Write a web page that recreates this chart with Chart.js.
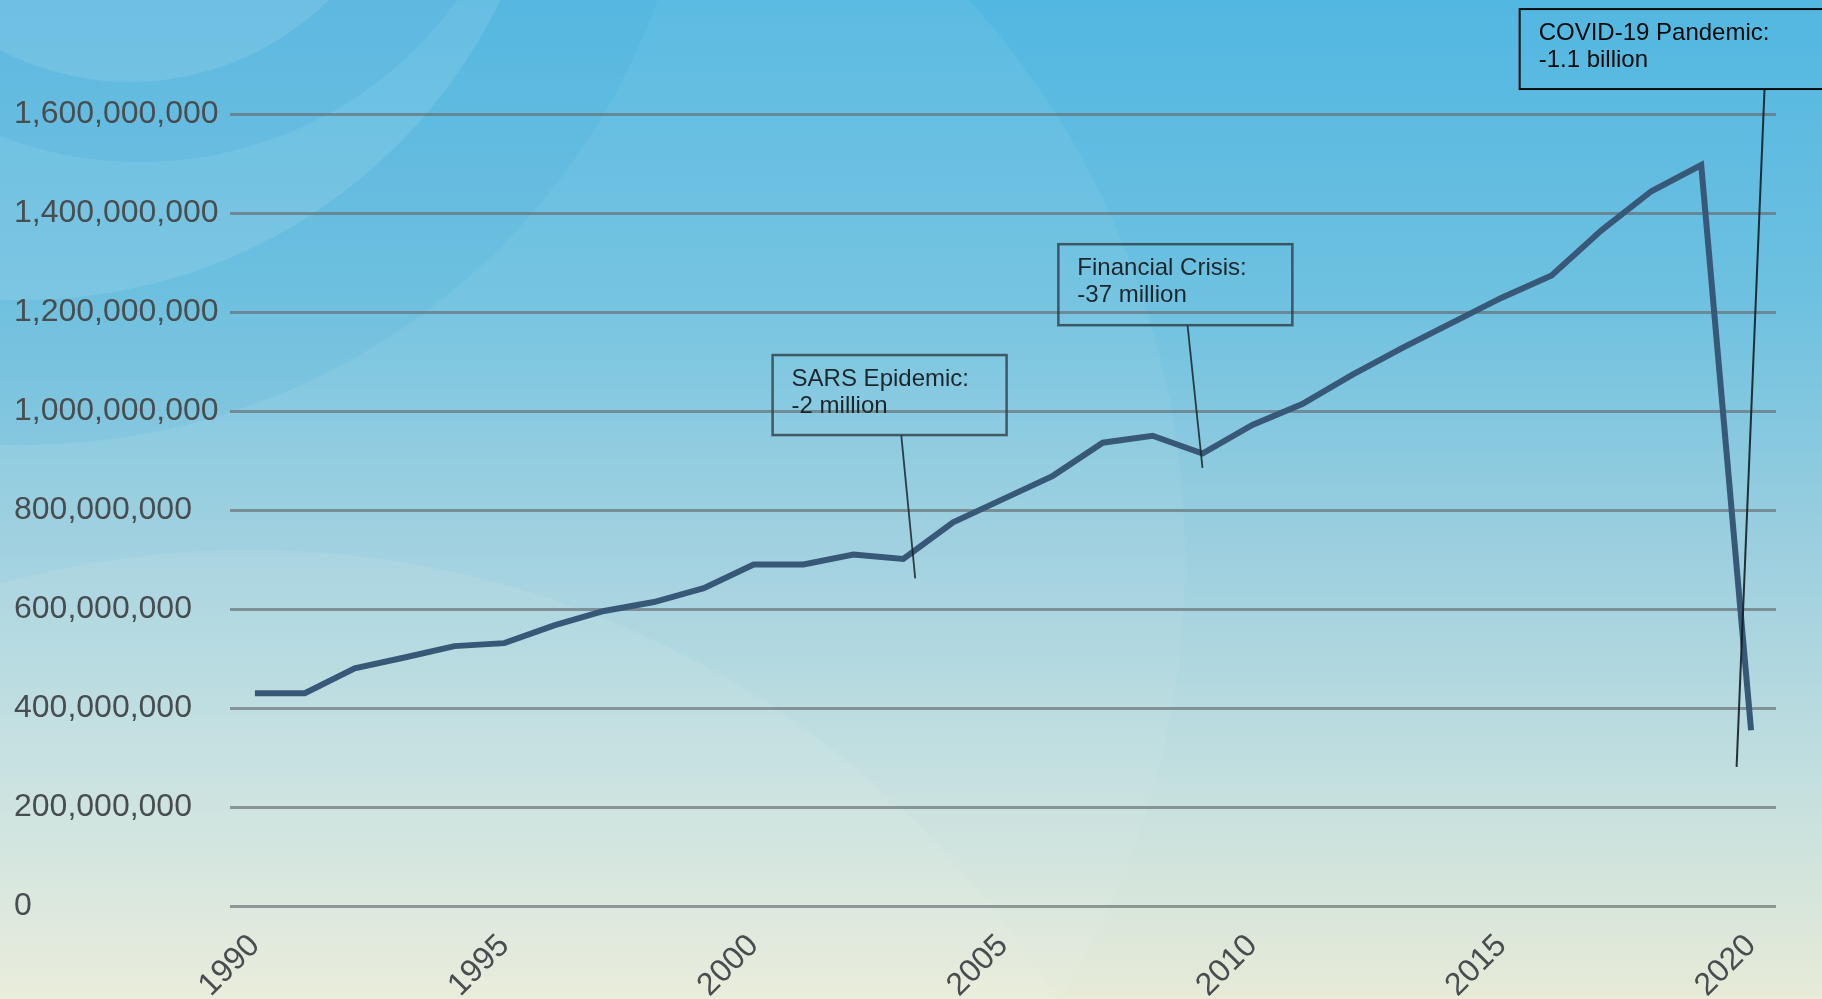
<!DOCTYPE html>
<html>
<head>
<meta charset="utf-8">
<script src="https://cdn.jsdelivr.net/npm/chart.js@4/dist/chart.umd.min.js"></script>
<style>
html,body{margin:0;padding:0;overflow:hidden;background:#7fc4df;}
#wrap{width:1822px;height:999px;position:relative;}
canvas{display:block;}
</style>
</head>
<body>
<div id="wrap"><canvas id="c" width="1822" height="999"></canvas></div>
<script>
// ---- data ----
const years = ['1990','1991','1992','1993','1994','1995','1996','1997','1998','1999',
               '2000','2001','2002','2003','2004','2005','2006','2007','2008','2009',
               '2010','2011','2012','2013','2014','2015','2016','2017','2018','2019','2020'];
const arrivals = [430e6, 430e6, 480e6, 502e6, 525e6, 531e6, 567e6, 596e6, 614e6, 642e6,
                  690e6, 690e6, 710e6, 701e6, 775e6, 822e6, 869e6, 936e6, 950e6, 914e6,
                  972e6, 1014e6, 1073e6, 1127e6, 1178e6, 1229e6, 1274e6, 1365e6, 1444e6, 1497e6, 355e6];
const yTickValues = [0, 200e6, 400e6, 600e6, 800e6, 1000e6, 1200e6, 1400e6, 1600e6];
const xTickLabels = ['1990','1995','2000','2005','2010','2015','2020'];
const eventTitles = ['SARS Epidemic:', 'Financial Crisis:', 'COVID-19 Pandemic:'];
const eventChanges = ['-2 million', '-37 million', '-1.1 billion'];

// ---- callout placement (data units: category index / value) ----
const calloutPlacement = [
  {boxX: 10.38, boxY: 1113e6, w: 234, h: 80, fromX: 12.96, toX: 13.24, toY: 662e6, strong: false},
  {boxX: 16.11, boxY: 1337e6, w: 234, h: 81, fromX: 18.70, toX: 19.00, toY: 885e6, strong: false},
  {boxX: 25.36, boxY: 1812e6, w: 330, h: 80, fromX: 30.27, toX: 29.71, toY: 281e6, strong: true}
];

const bgPlugin = {
  id: 'bg',
  beforeDraw(chart) {
    const ctx = chart.ctx, W = chart.width, H = chart.height;
    ctx.save();
    const g = ctx.createLinearGradient(0, 0, 0, H);
    g.addColorStop(0, '#52b7e1');
    g.addColorStop(0.3, '#6ec1e0');
    g.addColorStop(0.55, '#9ccfdf');
    g.addColorStop(0.78, '#c3dfdf');
    g.addColorStop(1, '#e7ebd8');
    ctx.fillStyle = g;
    ctx.fillRect(0, 0, W, H);
    const circ = (x, y, r, col) => { ctx.beginPath(); ctx.arc(x, y, r, 0, Math.PI * 2); ctx.fillStyle = col; ctx.fill(); };
    circ(350, 560, 835, 'rgba(255,255,255,0.06)');
    circ(23, -230, 675, 'rgba(20,140,205,0.07)');
    circ(23, -230, 530, 'rgba(255,255,255,0.10)');
    circ(140, -230, 392, 'rgba(20,140,205,0.10)');
    circ(130, -200, 282, 'rgba(255,255,255,0.10)');
    circ(250, 1500, 950, 'rgba(255,255,240,0.08)');
    ctx.restore();
  }
};

const calloutPlugin = {
  id: 'callouts',
  afterDraw(chart) {
    const ctx = chart.ctx;
    const xs = chart.scales.x, ys = chart.scales.y;
    ctx.save();
    calloutPlacement.forEach((c, i) => {
      const bx = xs.getPixelForValue(c.boxX);
      const by = ys.getPixelForValue(c.boxY);
      const fx = xs.getPixelForValue(c.fromX);
      const tx = xs.getPixelForValue(c.toX);
      const ty = ys.getPixelForValue(c.toY);
      ctx.beginPath();
      ctx.moveTo(fx, by + c.h);
      ctx.lineTo(tx, ty);
      ctx.lineWidth = c.strong ? 2 : 1.8;
      ctx.strokeStyle = c.strong ? 'rgba(20,30,35,0.9)' : 'rgba(25,35,40,0.85)';
      ctx.stroke();
      ctx.lineWidth = c.strong ? 2 : 2.5;
      ctx.strokeStyle = c.strong ? '#0a0a0a' : 'rgba(45,60,70,0.8)';
      ctx.strokeRect(bx, by, c.w, c.h);
      ctx.fillStyle = c.strong ? '#0a0a0a' : '#1c262b';
      ctx.font = '24px "Liberation Sans", Arial, sans-serif';
      ctx.textAlign = 'left';
      ctx.textBaseline = 'middle';
      ctx.fillText(eventTitles[i], bx + 19, by + 24);
      ctx.fillText(eventChanges[i], bx + 19, by + 51);
    });
    ctx.restore();
  }
};

const tickFont = {family: '"Liberation Sans", Arial, sans-serif', size: 32};

new Chart(document.getElementById('c'), {
  type: 'line',
  data: {
    labels: years,
    datasets: [{
      data: arrivals,
      borderColor: '#385878',
      borderWidth: 6,
      pointRadius: 0,
      pointHoverRadius: 0,
      fill: false,
      tension: 0
    }]
  },
  options: {
    responsive: false,
    animation: false,
    devicePixelRatio: 1,
    layout: {padding: {top: 114, left: 14, right: 46, bottom: 0}},
    plugins: {legend: {display: false}, tooltip: {enabled: false}},
    scales: {
      x: {
        type: 'category',
        offset: true,
        grid: {display: false, drawTicks: false},
        border: {display: false},
        afterFit(s) { s.height = 93; },
        ticks: {
          autoSkip: false,
          maxRotation: 45,
          minRotation: 45,
          padding: 21,
          color: '#484d50',
          font: tickFont,
          callback(v, i) { return xTickLabels.includes(years[i]) ? years[i] : ''; }
        }
      },
      y: {
        min: yTickValues[0],
        max: yTickValues[yTickValues.length - 1],
        afterFit(s) { s.width = 216; },
        afterBuildTicks(s) { s.ticks = yTickValues.map(v => ({value: v})); },
        grid: {color: 'rgba(100,108,112,0.65)', lineWidth: 3, drawTicks: false},
        border: {display: false},
        ticks: {
          padding: 0,
          crossAlign: 'far',
          color: '#484d50',
          font: tickFont,
          callback(v) { return Number(v).toLocaleString('en-US'); }
        }
      }
    }
  },
  plugins: [bgPlugin, calloutPlugin]
});
</script>
</body>
</html>
